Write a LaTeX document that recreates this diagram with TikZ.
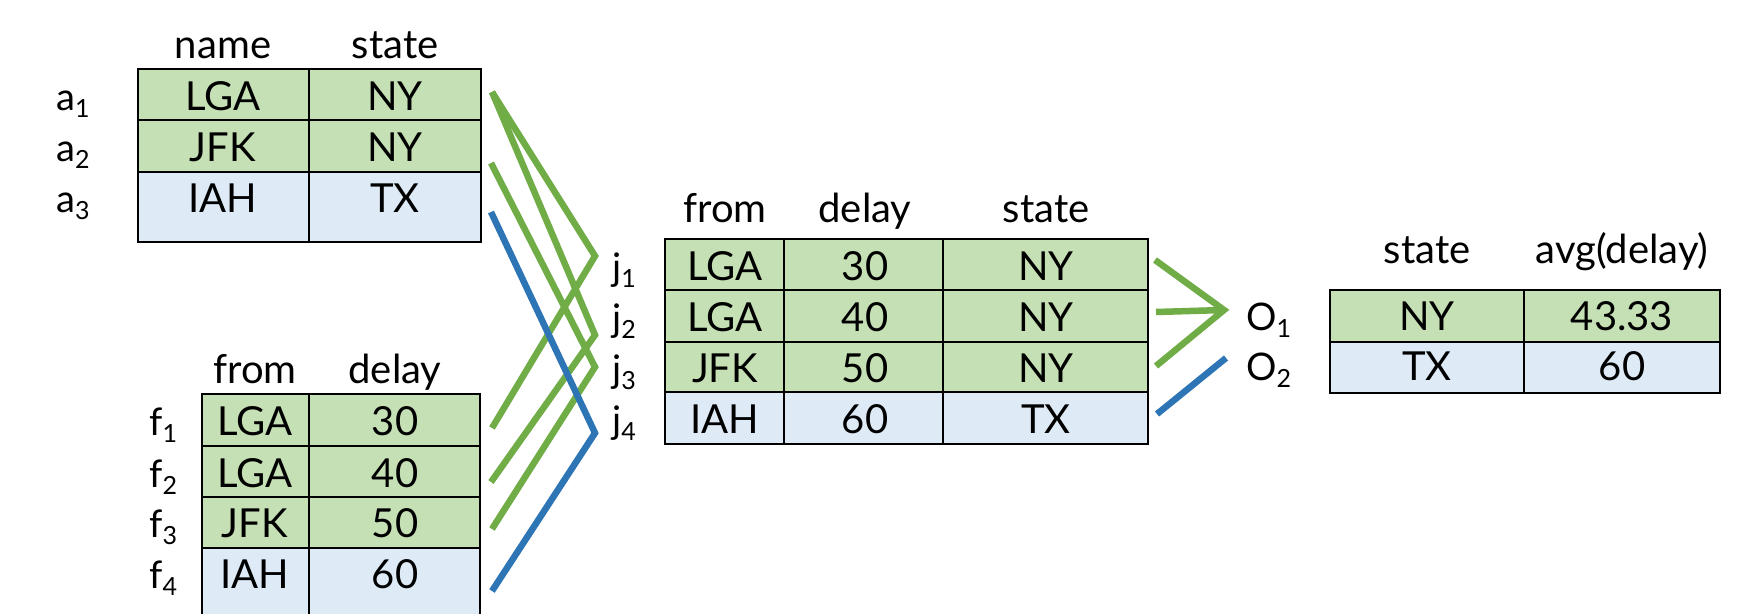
\documentclass[tikz,border=0pt]{standalone}
\usepackage{fontspec}
\setmainfont{Lato}
\definecolor{gfill}{HTML}{C5E0B4}
\definecolor{bfill}{HTML}{DEEBF7}
\definecolor{gline}{HTML}{70AD47}
\definecolor{bline}{HTML}{2E75B6}
\newcommand\sbs[1]{\raisebox{-7pt}{\fontsize{25}{25}\selectfont #1}}
\begin{document}
\begin{tikzpicture}[x=1pt,y=-1pt,
  cell/.style={draw=black,line width=2.6pt},
  gc/.style={cell,fill=gfill},
  bc/.style={cell,fill=bfill},
  txt/.style={anchor=base,inner sep=0pt,font=\fontsize{40}{48}\selectfont},
  lbl/.style={anchor=base west,inner sep=0pt,font=\fontsize{38}{42}\selectfont},
  gconn/.style={draw=gline,line width=6.5pt,line join=miter},
  bconn/.style={draw=bline,line width=6.5pt,line join=miter}]
\useasboundingbox (0,0) rectangle (1755,613);
\clip (0,0) rectangle (1755,613);
\fill[white] (0,0) rectangle (1755,613);

% ---- table a ----
\filldraw[gc] (138,69) rectangle (309,120);
\filldraw[gc] (309,69) rectangle (481,120);
\filldraw[gc] (138,120) rectangle (309,172);
\filldraw[gc] (309,120) rectangle (481,172);
\filldraw[bc] (138,172) rectangle (309,242);
\filldraw[bc] (309,172) rectangle (481,242);
\node[txt] (ahn) at (223,58) {name};
\node[txt] (ahs) at (395,58) {state};
\node[txt] (a11) at (223,110) {LGA};
\node[txt] (a12) at (395,110) {NY};
\node[txt] (a21) at (223,161) {JFK};
\node[txt] (a22) at (395,161) {NY};
\node[txt] (a31) at (223,212) {IAH};
\node[txt] (a32) at (395,212) {TX};
\node[lbl] (la1) at (56,110) {a\sbs{1}};
\node[lbl] (la2) at (56,161) {a\sbs{2}};
\node[lbl] (la3) at (56,212) {a\sbs{3}};

% ---- table f ----
\filldraw[gc] (202,394) rectangle (309,446);
\filldraw[gc] (309,394) rectangle (480,446);
\filldraw[gc] (202,446) rectangle (309,497);
\filldraw[gc] (309,446) rectangle (480,497);
\filldraw[gc] (202,497) rectangle (309,548);
\filldraw[gc] (309,497) rectangle (480,548);
\filldraw[bc] (202,548) rectangle (309,640);
\filldraw[bc] (309,548) rectangle (480,640);
\node[txt] (fhf) at (255,383) {from};
\node[txt] (fhd) at (395,383) {delay};
\node[txt] (f11) at (255,435) {LGA};
\node[txt] (f12) at (395,435) {30};
\node[txt] (f21) at (255,487) {LGA};
\node[txt] (f22) at (395,487) {40};
\node[txt] (f31) at (255,537) {JFK};
\node[txt] (f32) at (395,537) {50};
\node[txt] (f41) at (255,588) {IAH};
\node[txt] (f42) at (395,588) {60};
\node[lbl] (lf1) at (149,435) {f\sbs{1}};
\node[lbl] (lf2) at (149,487) {f\sbs{2}};
\node[lbl] (lf3) at (149,537) {f\sbs{3}};
\node[lbl] (lf4) at (149,588) {f\sbs{4}};

% ---- table j ----
\foreach \ya/\yb/\st in {239/290/gc,290/342/gc,342/392/gc,392/444/bc}{
  \filldraw[\st] (665,\ya) rectangle (784,\yb);
  \filldraw[\st] (784,\ya) rectangle (943,\yb);
  \filldraw[\st] (943,\ya) rectangle (1148,\yb);
}
\node[txt] (jhf) at (725,222) {from};
\node[txt] (jhd) at (865,222) {delay};
\node[txt] (jhs) at (1046,222) {state};
\node[txt] (j11) at (725,280) {LGA};
\node[txt] (j12) at (865,280) {30};
\node[txt] (j13) at (1046,280) {NY};
\node[txt] (j21) at (725,331) {LGA};
\node[txt] (j22) at (865,331) {40};
\node[txt] (j23) at (1046,331) {NY};
\node[txt] (j31) at (725,382) {JFK};
\node[txt] (j32) at (865,382) {50};
\node[txt] (j33) at (1046,382) {NY};
\node[txt] (j41) at (725,433) {IAH};
\node[txt] (j42) at (865,433) {60};
\node[txt] (j43) at (1046,433) {TX};
\node[lbl] (lj1) at (612,280) {j\sbs{1}};
\node[lbl] (lj2) at (612,331) {j\sbs{2}};
\node[lbl] (lj3) at (612,382) {j\sbs{3}};
\node[lbl] (lj4) at (612,433) {j\sbs{4}};

% ---- table o ----
\filldraw[gc] (1330,290) rectangle (1524,342);
\filldraw[gc] (1524,290) rectangle (1720,342);
\filldraw[bc] (1330,342) rectangle (1524,393);
\filldraw[bc] (1524,342) rectangle (1720,393);
\node[txt] (ohs) at (1427,263) {state};
\node[txt] (oha) at (1622,263) {avg(delay)};
\node[txt] (o11) at (1427,330) {NY};
\node[txt] (o12) at (1622,330) {43.33};
\node[txt] (o21) at (1427,380) {TX};
\node[txt] (o22) at (1622,380) {60};
\node[lbl] (lo1) at (1246,330) {O\sbs{1}};
\node[lbl] (lo2) at (1246,380) {O\sbs{2}};

% ---- connectors ----
\coordinate (a1s) at (492,92);
\coordinate (a2s) at (491,163);
\coordinate (a3s) at (491,212);
\coordinate (f1s) at (492,428);
\coordinate (f2s) at (491,482);
\coordinate (f3s) at (492,529);
\coordinate (f4s) at (492,591);
\coordinate (j1p) at (595,256);
\coordinate (j2p) at (595,335);
\coordinate (j3p) at (595,367);
\coordinate (j4p) at (595,433);
\draw[gconn] (a1s) -- (j1p) -- (f1s);
\draw[gconn] (a1s) -- (j2p) -- (f2s);
\draw[gconn] (a2s) -- (j3p) -- (f3s);
\draw[bconn] (a3s) -- (j4p) -- (f4s);

\coordinate (o1s) at (1155,260);
\coordinate (o2s) at (1156,312);
\coordinate (o3s) at (1156,366);
\coordinate (o4s) at (1157,414);
\coordinate (op1) at (1224,310);
\coordinate (op2) at (1226,358);
\draw[gconn] (o1s) -- (op1) -- (o3s);
\draw[gconn] (o2s) -- (op1);
\draw[bconn] (o4s) -- (op2);
\end{tikzpicture}
\end{document}
